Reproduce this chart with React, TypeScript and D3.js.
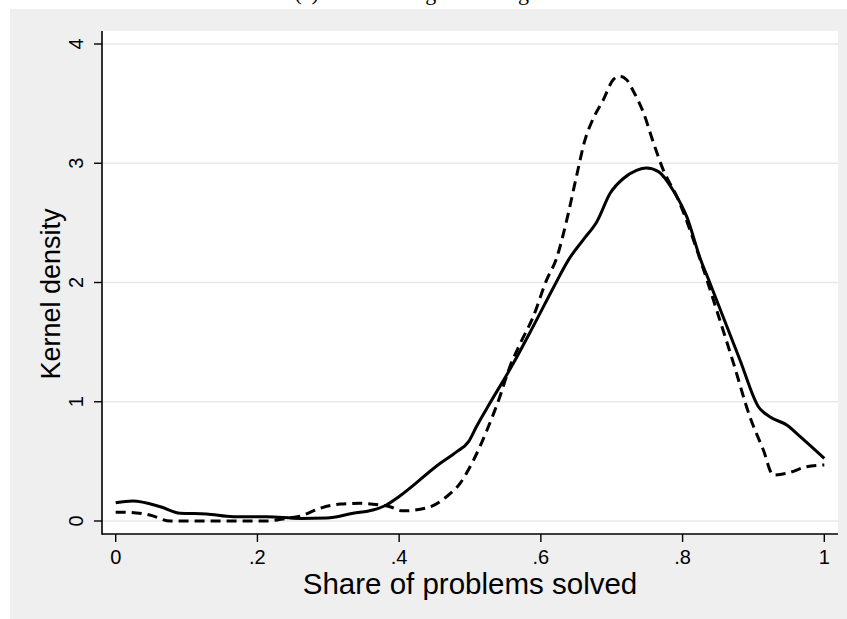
import React from 'react';
import * as d3 from 'd3';

// share of problems solved (x) and kernel density (y)
const solidShare = [0, 0.024, 0.063, 0.091, 0.128, 0.166, 0.213, 0.26, 0.298, 0.335, 0.363, 0.382, 0.401, 0.458, 0.481, 0.498, 0.509, 0.528, 0.561, 0.589, 0.618, 0.639, 0.66, 0.679, 0.698, 0.716, 0.735, 0.749, 0.766, 0.787, 0.806, 0.825, 0.839, 0.881, 0.907, 0.923, 0.947, 0.966, 1.0];
const solidDensity = [0.153, 0.168, 0.12, 0.065, 0.059, 0.036, 0.036, 0.022, 0.025, 0.065, 0.092, 0.134, 0.21, 0.484, 0.58, 0.665, 0.79, 0.987, 1.32, 1.63, 1.96, 2.19, 2.36, 2.51, 2.75, 2.87, 2.94, 2.96, 2.93, 2.77, 2.55, 2.2, 1.99, 1.35, 0.958, 0.874, 0.805, 0.707, 0.525];

const dashedShare = [0, 0.016, 0.048, 0.077, 0.213, 0.241, 0.26, 0.288, 0.317, 0.345, 0.373, 0.387, 0.405, 0.439, 0.467, 0.486, 0.505, 0.524, 0.542, 0.556, 0.571, 0.589, 0.608, 0.622, 0.636, 0.651, 0.662, 0.672, 0.688, 0.702, 0.711, 0.721, 0.73, 0.745, 0.759, 0.773, 0.792, 0.825, 0.848, 0.872, 0.895, 0.914, 0.928, 0.947, 0.975, 1.0];
const dashedDensity = [0.073, 0.073, 0.05, 0, 0, 0.022, 0.04, 0.106, 0.142, 0.148, 0.134, 0.12, 0.085, 0.11, 0.204, 0.316, 0.511, 0.763, 1.04, 1.29, 1.49, 1.71, 2.02, 2.2, 2.51, 2.91, 3.19, 3.35, 3.53, 3.7, 3.73, 3.7, 3.61, 3.42, 3.17, 2.94, 2.72, 2.19, 1.77, 1.32, 0.874, 0.595, 0.386, 0.4, 0.455, 0.47];

const xTicks = [0, 0.2, 0.4, 0.6, 0.8, 1];
const xTickLabels = ['0', '.2', '.4', '.6', '.8', '1'];
const yTicks = [0, 1, 2, 3, 4];

const W = 847;
const H = 619;
const plot = { left: 102, right: 838, top: 31, bottom: 534 };

const App = () => {
  const x = d3.scaleLinear().domain([0, 1]).range([115.7, 824.3]);
  const y = d3.scaleLinear().domain([0, 4]).range([521, 44]);

  const line = d3.line<[number, number]>()
    .x(d => x(d[0]))
    .y(d => y(d[1]))
    .curve(d3.curveMonotoneX);

  const solidPath = line(solidShare.map((s, i) => [s, solidDensity[i]]) as [number, number][]) || '';
  const dashedPath = line(dashedShare.map((s, i) => [s, dashedDensity[i]]) as [number, number][]) || '';

  const sans = 'Liberation Sans, Arial, sans-serif';

  return (
    <svg width={W} height={H} style={{ position: 'absolute', left: 0, top: 0 }}>
      <rect x={0} y={0} width={W} height={H} fill="#ffffff" />
      <rect x={10} y={9} width={W - 10} height={H - 9} fill="#efefef" />
      {/* panel title, cut off at the top edge as in the source figure */}
      <text x={424} y={0} textAnchor="middle" fontFamily="Liberation Serif, serif" fontSize={22} fill="#000">
        (a) Rank among the strongest
      </text>
      <rect x={plot.left} y={plot.top} width={plot.right - plot.left} height={plot.bottom - plot.top} fill="#ffffff" />

      {yTicks.map(t => (
        <line key={'g' + t} x1={plot.left} x2={plot.right} y1={y(t)} y2={y(t)} stroke="#e8e8e8" strokeWidth={1.6} />
      ))}

      <path d={dashedPath} fill="none" stroke="#000" strokeWidth={3} strokeDasharray="10 6" />
      <path d={solidPath} fill="none" stroke="#000" strokeWidth={3} />

      <line x1={plot.left} x2={plot.left} y1={plot.top} y2={plot.bottom + 0.8} stroke="#000" strokeWidth={1.6} />
      <line x1={plot.left} x2={plot.right} y1={plot.bottom} y2={plot.bottom} stroke="#000" strokeWidth={1.6} />

      {yTicks.map(t => (
        <g key={'y' + t}>
          <line x1={plot.left - 8} x2={plot.left} y1={y(t)} y2={y(t)} stroke="#000" strokeWidth={1.4} />
          <text
            transform={`translate(76,${y(t)}) rotate(-90)`}
            textAnchor="middle"
            dominantBaseline="central"
            fontFamily={sans}
            fontSize={20}
            fill="#000"
          >
            {t}
          </text>
        </g>
      ))}

      {xTicks.map((t, i) => (
        <g key={'x' + t}>
          <line x1={x(t)} x2={x(t)} y1={plot.bottom} y2={plot.bottom + 8} stroke="#000" strokeWidth={1.4} />
          <text x={x(t)} y={563.5} textAnchor="middle" fontFamily={sans} fontSize={20} fill="#000">
            {xTickLabels[i]}
          </text>
        </g>
      ))}

      <text x={470} y={594} textAnchor="middle" fontFamily={sans} fontSize={29.5} fill="#000">
        Share of problems solved
      </text>
      <text
        transform={`translate(60,294) rotate(-90)`}
        textAnchor="middle"
        fontFamily={sans}
        fontSize={27}
        fill="#000"
      >
        Kernel density
      </text>
    </svg>
  );
};

export default App;
